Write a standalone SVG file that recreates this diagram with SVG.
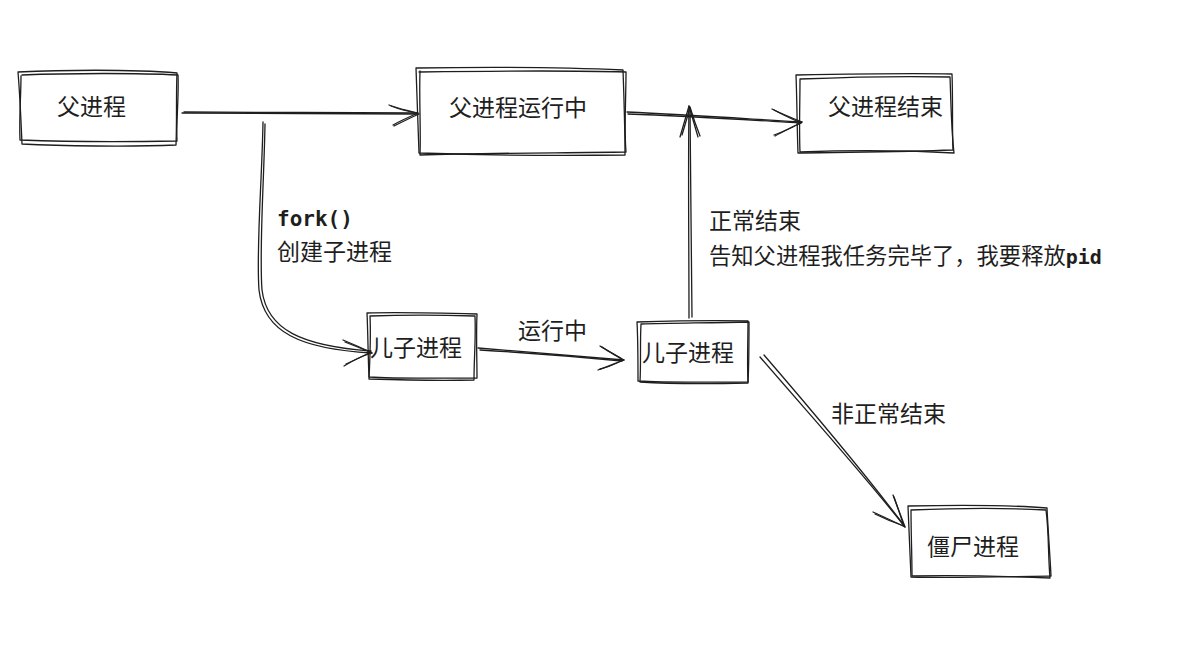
<svg xmlns="http://www.w3.org/2000/svg" width="1178" height="668" viewBox="0 0 1178 668">
<defs>
<style>
.s{fill:none;stroke:#1e1e1e;stroke-width:1.3;stroke-linecap:round;stroke-linejoin:round}
.t{font-family:"Noto Sans CJK SC","Noto Sans",sans-serif;font-size:23px;fill:#1e1e1e}
.m{font-family:"DejaVu Sans Mono","Liberation Mono","Noto Sans CJK SC",monospace;font-weight:bold;font-size:21px;fill:#1e1e1e}
.sm{font-size:22.3px}
.pm{font-size:20px}
</style>
</defs>
<rect width="1178" height="668" fill="#ffffff"/>
<g id="n-parent">
<path class="s" d="M18 72 C60 70,130 69,177 73 C176 96,177 122,176 145 C130 147,60 146,22 144 C21 120,20 96,18 72"/>
<path class="s" d="M22 75 C70 73,140 73,178 75 C179 98,176 122,177 141 C130 142,70 142,20 140 C19 118,21 96,21 76"/>
<text class="t" x="57" y="115">父进程</text>
</g>
<g id="n-running">
<path class="s" d="M416 68 C480 67,560 67,623 70 C624 98,625 126,625 155 C560 156,480 155,419 153 C418 126,417 96,416 68"/>
<path class="s" d="M419 72 C490 71,560 70,626 72 C626 100,624 128,626 152 C560 153,480 153,420 155 C421 128,419 100,420 71"/>
<text class="t" x="449" y="116">父进程运行中</text>
</g>
<g id="n-parent-end">
<path class="s" d="M796 75 C850 74,910 73,952 74 C953 100,952 128,953 150 C900 152,850 152,798 153 C797 126,797 100,796 75"/>
<path class="s" d="M800 79 C850 77,910 76,950 77 C951 100,951 126,954 153 C900 150,850 150,800 152 C799 128,800 102,800 79"/>
<text class="t" x="828" y="115">父进程结束</text>
</g>
<g id="n-child1">
<path class="s" d="M367 313 C400 312,440 313,477 314 C476 336,477 358,477 378 C440 378,400 379,369 377 C368 356,368 334,367 313"/>
<path class="s" d="M370 316 C400 315,440 315,475 316 C476 338,474 358,474 380 C440 381,400 380,369 379 C370 358,371 336,370 316"/>
<text class="t" x="370" y="356">儿子进程</text>
</g>
<g id="n-child2">
<path class="s" d="M637 322 C670 321,710 320,748 321 C748 342,747 362,748 382 C710 382,670 383,638 381 C638 360,638 340,637 322"/>
<path class="s" d="M641 324 C670 323,710 323,749 322 C749 344,749 364,748 383 C710 384,670 384,640 382 C641 362,640 342,641 324"/>
<text class="t" x="642" y="361">儿子进程</text>
</g>
<g id="n-zombie">
<path class="s" d="M908 506 C960 505,1010 505,1047 508 C1048 530,1050 555,1051 576 C1000 577,950 578,911 577 C910 555,909 530,908 506"/>
<path class="s" d="M911 510 C960 508,1010 508,1046 510 C1049 532,1048 556,1050 578 C1000 576,950 575,912 576 C912 556,911 532,911 510"/>
<text class="t" x="927" y="555">僵尸进程</text>
</g>
<g id="connectors">
<path class="s" d="M182 113 C260 113,340 114,418 114"/>
<path class="s" d="M184 112 C260 112,340 113,416 113"/>
<path class="s" d="M389 105 C400 109,410 111,419 114 C410 118,402 122,394 126"/>
<path class="s" d="M391 106 C401 110,411 112,418 113 C409 117,400 121,393 125"/>

<path class="s" d="M627 112 C690 115,750 119,802 122"/>
<path class="s" d="M628 114 C690 116,750 120,801 123"/>
<path class="s" d="M772 109 C782 114,792 118,802 122 C793 127,784 131,775 136"/>
<path class="s" d="M774 110 C783 115,792 119,801 123 C792 127,783 132,774 135"/>

<path class="s" d="M263 122 C262 180,256 250,259 290 C264 332,300 349,372 353"/>
<path class="s" d="M265 124 C264 182,259 250,262 290 C267 330,302 346,371 351"/>
<path class="s" d="M343 340 C353 344,362 348,372 353 C362 356,352 361,344 366"/>
<path class="s" d="M345 342 C354 346,363 349,371 352 C361 357,353 361,346 364"/>

<path class="s" d="M478 348 C530 352,580 356,624 360"/>
<path class="s" d="M480 350 C530 353,580 357,622 361"/>
<path class="s" d="M600 346 C608 351,616 355,624 360 C616 363,607 367,598 370"/>
<path class="s" d="M602 347 C609 352,617 356,623 360 C615 364,607 368,600 369"/>

<path class="s" d="M689 318 C689 250,688 170,689 106"/>
<path class="s" d="M692 317 C691 250,691 170,690 108"/>
<path class="s" d="M680 137 C683 127,686 116,689 106 C692 116,695 127,698 137"/>
<path class="s" d="M682 135 C685 125,688 115,690 107 C693 117,696 126,700 136"/>

<path class="s" d="M760 357 C810 415,860 470,905 527"/>
<path class="s" d="M764 355 C814 413,862 470,903 524"/>
<path class="s" d="M873 512 C884 517,895 522,905 527 C901 516,897 506,893 495"/>
<path class="s" d="M875 514 C885 519,895 523,904 526 C900 515,897 505,894 497"/>
</g>
<g id="labels">
<text class="m" x="277" y="226">fork()</text>
<text class="t" x="277" y="260">创建子进程</text>
<text class="t" x="518" y="339">运行中</text>
<text class="t" x="709" y="229">正常结束</text>
<text class="t sm" x="709" y="264">告知父进程我任务完毕了，我要释放<tspan class="m pm">pid</tspan></text>
<text class="t" x="831" y="422">非正常结束</text>
</g>
</svg>
